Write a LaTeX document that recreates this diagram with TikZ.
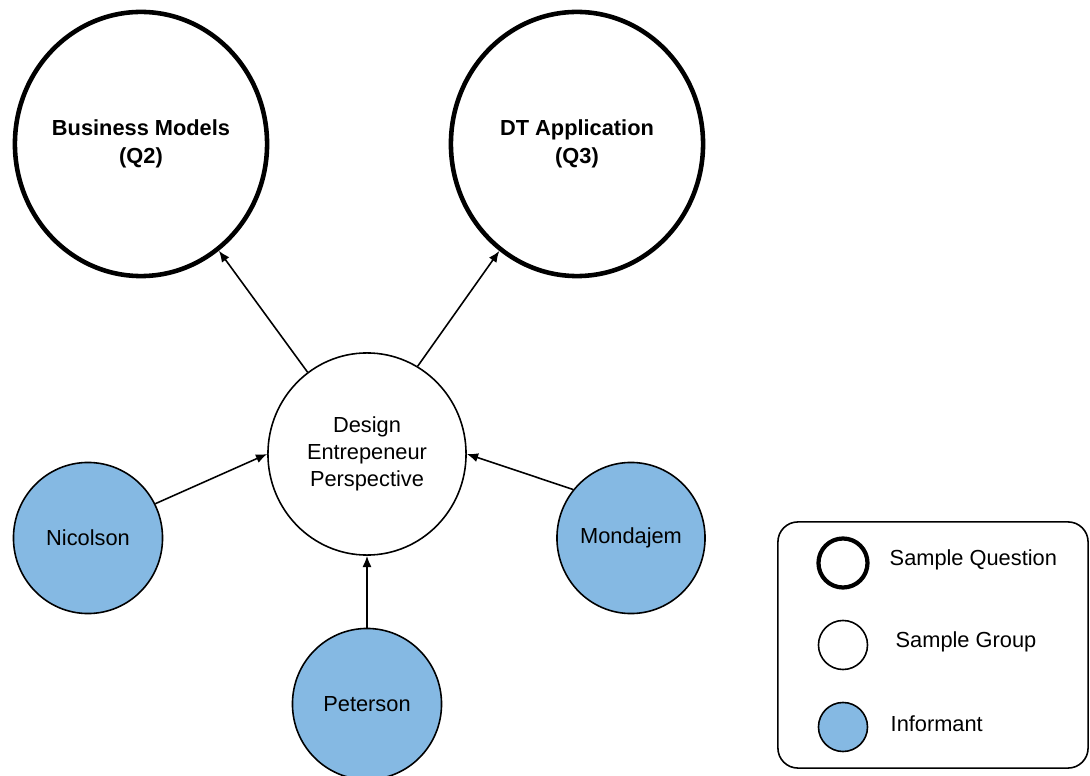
\documentclass[tikz,border=0pt]{standalone}
\usepackage{fontspec}
\setmainfont{Liberation Sans}
\usetikzlibrary{positioning,arrows.meta,shapes.geometric}
\definecolor{informant blue}{RGB}{133,185,227}

\begin{document}
\begin{tikzpicture}[x=0.01cm,y=-0.01cm,
                    font=\fontsize{6.2pt}{7.7pt}\selectfont,
                    question node/.style={ellipse,draw,line width=1.3pt,inner sep=0pt,align=center,
                                          font=\fontsize{6.2pt}{7.9pt}\selectfont\bfseries},
                    group node/.style={ellipse,draw,line width=0.45pt,inner sep=0pt,align=center},
                    informant node/.style={ellipse,draw,line width=0.45pt,fill=informant blue,inner sep=0pt},
                    link/.style={-{Latex[length=3.2pt,width=2.6pt]},line width=0.45pt}
                   ]
  \useasboundingbox (0,0) rectangle (1090,776);
  % questions
  \node[question node,minimum width=2.52cm,minimum height=2.64cm] (biz) at (141,144) {Business Models\\(Q2)};
  \node[question node,minimum width=2.52cm,minimum height=2.64cm] (dt) at (577,144) {DT Application\\(Q3)};
  % group
  \node[group node,minimum width=1.98cm,minimum height=2.02cm] (design) at (367,454) {Design\\Entrepeneur\\Perspective};
  % informants
  \node[informant node,minimum width=1.49cm,minimum height=1.51cm] (nic) at (88,538) {Nicolson};
  \node[informant node,minimum width=1.48cm,minimum height=1.51cm] (mon) at (631,538) {Mondajem};
  \node[informant node,minimum width=1.49cm,minimum height=1.51cm] (pet) at (367,704) {Peterson};
  \path[link]
    (design.126) edge (biz)
    (design.60) edge (dt.234)
    (nic.27) edge (design.west)
    (mon.140) edge (design.east)
    (pet) edge (design);
  % legend
  \node[draw,line width=0.45pt,rounded corners=0.2cm,minimum width=3.1cm,minimum height=2.46cm] (legend) at (933,645) {};
  \node[question node,minimum size=0.49cm,line width=1.2pt] (lq) at (843,563) {};
  \node[group node,minimum size=0.49cm] (lg) at (843,645) {};
  \node[informant node,minimum size=0.49cm] (li) at (843,727) {};
  \node[anchor=west,inner sep=0pt] (lqt) at (889,560) {Sample Question};
  \node[anchor=west,inner sep=0pt] (lgt) at (895,642) {Sample Group};
  \node[anchor=west,inner sep=0pt] (lit) at (890,724) {Informant};
\end{tikzpicture}
\end{document}
